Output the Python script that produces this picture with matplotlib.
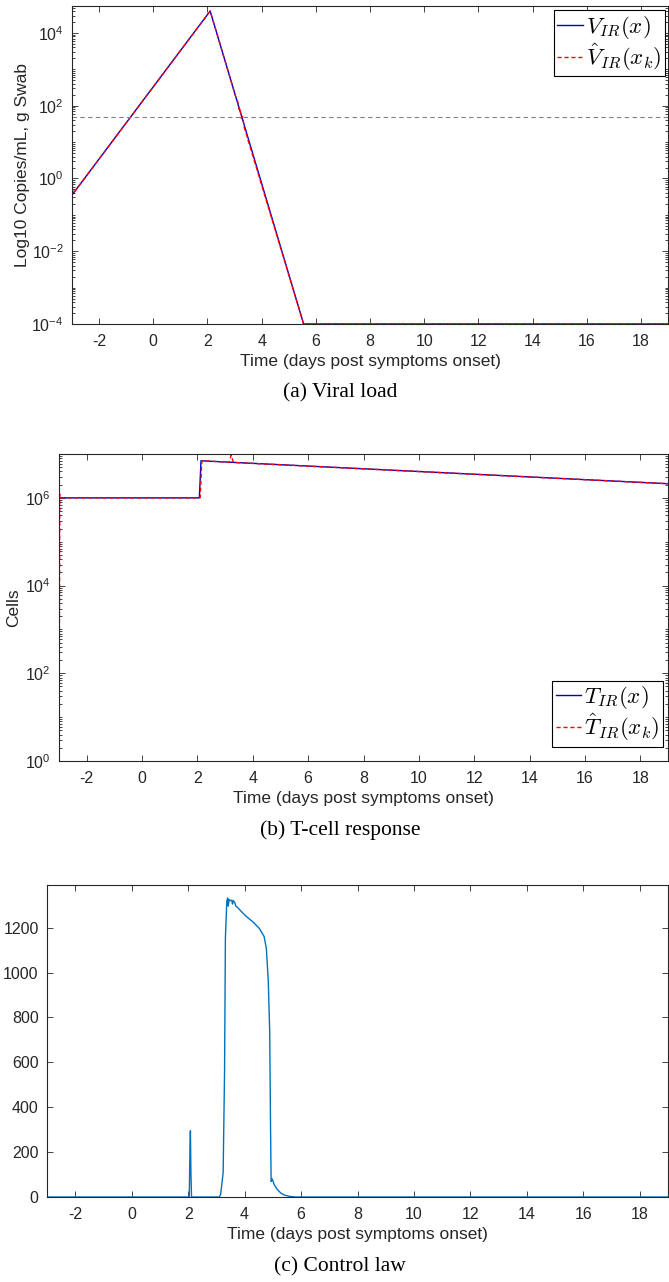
import numpy as np
import matplotlib
matplotlib.use('Agg')
import matplotlib.pyplot as plt
from matplotlib.ticker import LogLocator, NullFormatter

plt.rcParams['font.family'] = ['Liberation Sans', 'DejaVu Sans']
plt.rcParams['mathtext.fontset'] = 'cm'
plt.rcParams['axes.unicode_minus'] = False

# Viral load (copies/mL), model and estimate
t_v = [-3.0, 2.1, 5.55, 19.0]
v_true = [0.35, 4.0e4, 1.0e-4, 1.0e-4]
t_vh = [-3.0, -2.99, -2.98, -2.96, 2.1, 3.05, 3.12, 3.16, 3.2, 3.25, 3.3, 3.36, 5.55, 19.0]
v_hat = [0.03, 0.9, 0.55, 0.38, 4.0e4, 170, 130, 80, 90, 45, 50, 25, 1.0e-4, 1.0e-4]
v_threshold = 50

# T-cell response (cells), model and estimate
t_T = [-3.0, 2.07, 2.13, 19.0]
T_true = [1.0e6, 1.0e6, 7.0e6, 2.1e6]
t_Th = [-3.0, -2.97, -2.95, 2.1, 2.16, 3.15, 3.22, 3.3, 19.0]
T_hat = [2.0, 1.2e6, 1.0e6, 1.0e6, 7.0e6, 6.5e6, 9.5e6, 6.4e6, 2.1e6]

# Control input
t_u = [-3.0, 2.04, 2.06, 2.08, 2.1, 2.12, 3.1, 3.15, 3.24, 3.29, 3.32, 3.37, 3.40,
       3.42, 3.45, 3.5, 3.55, 3.57, 3.6, 3.65, 3.69, 3.75, 3.9, 4.05, 4.3, 4.52,
       4.69, 4.77, 4.84, 4.89, 4.92, 4.94, 4.96, 4.98, 5.05, 5.15, 5.28, 5.4,
       5.58, 5.8, 19.0]
u = [0, 0, 180, 295, 100, 0, 0, 10, 108, 556, 1152, 1318, 1332,
     1296, 1325, 1320, 1322, 1305, 1320, 1312, 1296, 1290, 1270, 1251, 1225, 1197,
     1161, 1108, 960, 735, 300, 69, 75, 80, 55, 35, 18, 9,
     3, 0, 0]

xticks = np.arange(-2, 19, 2)
xlab = 'Time (days post symptoms onset)'
axcol = '#262626'

W, H = 669, 1282
fig = plt.figure(figsize=(W / 100, H / 100), dpi=100)


def box(l, t, r, b):
    return [l / W, 1 - b / H, (r - l) / W, (b - t) / H]


def style(ax):
    for s in ax.spines.values():
        s.set_color(axcol)
        s.set_linewidth(0.8)
    ax.tick_params(which='both', direction='in', top=True, right=True,
                   colors=axcol, labelsize=11.5, width=0.6)
    ax.tick_params(which='major', length=4.5)
    ax.tick_params(which='minor', length=2.2)
    ax.tick_params(axis='x', pad=7)
    ax.tick_params(axis='y', pad=6)
    ax.set_xlim(-3, 19)
    ax.set_xticks(xticks)
    ax.set_xlabel(xlab, fontsize=12.5, color=axcol, labelpad=4)


def leg(ax, **kw):
    lg = ax.legend(fontsize=16.5, frameon=True, fancybox=False, framealpha=1,
                   edgecolor='black', handlelength=1.1, handletextpad=0.15,
                   borderpad=0.15, labelspacing=0.05, borderaxespad=0, **kw)
    lg.get_frame().set_linewidth(0.8)


# (a) viral load
ax1 = fig.add_axes(box(72, 6, 668, 324))
ax1.plot(t_v, v_true, color='#0000c8', lw=1.0, label=r'$V_{IR}(x)$')
ax1.plot(t_vh, v_hat, color='red', lw=1.0, dashes=(3, 2), label=r'$\hat{V}_{IR}(x_k)$')
ax1.axhline(v_threshold, color='#808080', lw=0.8, dashes=(4, 3))
ax1.set_yscale('log')
ax1.set_ylim(1e-4, 5.5e4)
ax1.set_yticks([1e-4, 1e-2, 1e0, 1e2, 1e4])
ax1.yaxis.set_minor_locator(LogLocator(base=10, subs=np.arange(1, 10), numticks=50))
ax1.yaxis.set_minor_formatter(NullFormatter())
ax1.set_ylabel('Log10 Copies/mL, g Swab', fontsize=12.5, color=axcol, labelpad=1)
style(ax1)
leg(ax1, loc='upper right', bbox_to_anchor=(0.995, 0.987))

# (b) T-cell response
ax2 = fig.add_axes(box(59, 454, 668, 761))
ax2.plot(t_T, T_true, color='#0000c8', lw=1.0, label=r'$T_{IR}(x)$')
ax2.plot(t_Th, T_hat, color='red', lw=1.0, dashes=(3, 2), label=r'$\hat{T}_{IR}(x_k)$')
ax2.set_yscale('log')
ax2.set_ylim(1, 1e7)
ax2.set_yticks([1e0, 1e2, 1e4, 1e6])
ax2.yaxis.set_minor_locator(LogLocator(base=10, subs=np.arange(1, 10), numticks=50))
ax2.yaxis.set_minor_formatter(NullFormatter())
ax2.set_ylabel('Cells', fontsize=12.5, color=axcol, labelpad=3)
style(ax2)
leg(ax2, loc='lower right', bbox_to_anchor=(0.992, 0.046))

# (c) control law
ax3 = fig.add_axes(box(47, 885, 668, 1197))
ax3.plot(t_u, u, color='#0072BD', lw=1.0)
ax3.set_ylim(0, 1390)
ax3.set_yticks(np.arange(0, 1201, 200))
style(ax3)

cap = dict(ha='center', va='center', fontsize=15.5, family=['Liberation Serif', 'DejaVu Serif'])
fig.text(340 / W, 1 - 393 / H, '(a) Viral load', **cap)
fig.text(340 / W, 1 - 830 / H, '(b) T-cell response', **cap)
fig.text(340 / W, 1 - 1267 / H, '(c) Control law', **cap)

fig.savefig('out.png', dpi=100)
